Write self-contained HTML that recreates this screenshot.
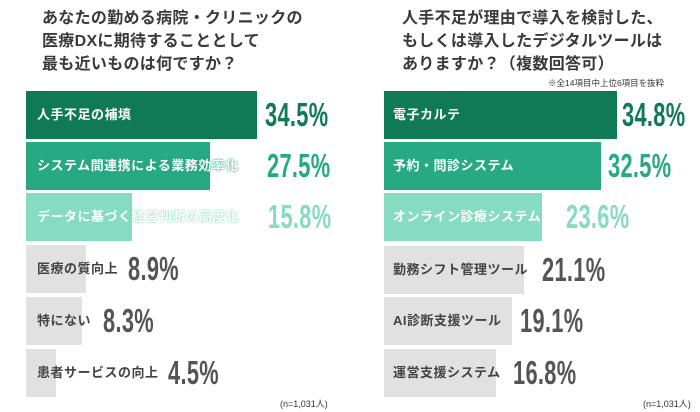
<!DOCTYPE html>
<html><head><meta charset="utf-8"><style>
body{margin:0;width:700px;height:412px;background:#fff;position:relative;overflow:hidden;font-family:"Liberation Sans","Noto Sans CJK JP",sans-serif;font-weight:bold}
.t{position:absolute;font-size:16px;line-height:23px;color:#3a3a3a;letter-spacing:0.3px}
.b{position:absolute;height:48px}
.l{position:absolute;font-size:13px;line-height:16px;white-space:nowrap;letter-spacing:0.5px}
.v{position:absolute;font-size:33px;line-height:32px;white-space:nowrap;transform:scaleX(0.66);transform-origin:left center;letter-spacing:0.5px}
.d{background:#107a56}.m{background:#27a983}.c{background:#86dcc0}.g{background:#e1e1e1}
.w{color:#fff}.k{color:#444}
.n{position:absolute;font-size:9px;color:#333;font-weight:normal}
</style></head><body>
<div class="t" style="left:42px;top:7px">あなたの勤める病院・クリニックの<br>医療DXに期待することとして<br>最も近いものは何ですか？</div>
<div class="t" style="left:402px;top:7px">人手不足が理由で導入を検討した、<br>もしくは導入したデジタルツールは<br>ありますか？（複数回答可）</div>
<div class="n" style="left:548px;top:77px;font-size:8.5px">※全14項目中上位6項目を抜粋</div>

<div class="b d" style="left:26px;top:91px;width:231px"></div>
<div class="b m" style="left:26px;top:142px;width:184px"></div>
<div class="b c" style="left:26px;top:193px;width:106px"></div>
<div class="b g" style="left:26px;top:245px;width:60px"></div>
<div class="b g" style="left:26px;top:297px;width:56px"></div>
<div class="b g" style="left:26px;top:349px;width:30px"></div>

<div class="l w" style="left:37px;top:107px">人手不足の補填</div>
<div class="l w" style="left:37px;top:158px;text-shadow:0 0 2px #27a983,0 0 1px #27a983">システム間連携による業務効率化</div>
<div class="l w" style="left:37px;top:209px;text-shadow:0 0 2px #86dcc0,0 0 1px #86dcc0">データに基づく経営判断の高度化</div>
<div class="l k" style="left:37px;top:261px">医療の質向上</div>
<div class="l k" style="left:37px;top:313px">特にない</div>
<div class="l k" style="left:37px;top:365px">患者サービスの向上</div>

<div class="v" style="left:265px;top:99px;color:#107a56">34.5%</div>
<div class="v" style="left:267px;top:150px;color:#27a983">27.5%</div>
<div class="v" style="left:268px;top:201px;color:#86dcc0">15.8%</div>
<div class="v" style="left:128px;top:253px;color:#555">8.9%</div>
<div class="v" style="left:103px;top:305px;color:#555">8.3%</div>
<div class="v" style="left:168px;top:357px;color:#555">4.5%</div>

<div class="b d" style="left:384px;top:91px;width:233px"></div>
<div class="b m" style="left:384px;top:142px;width:217px"></div>
<div class="b c" style="left:384px;top:193px;width:158px"></div>
<div class="b g" style="left:384px;top:246px;width:140px"></div>
<div class="b g" style="left:384px;top:297px;width:128px"></div>
<div class="b g" style="left:384px;top:349px;width:112px"></div>

<div class="l w" style="left:393px;top:107px">電子カルテ</div>
<div class="l w" style="left:393px;top:158px">予約・問診システム</div>
<div class="l w" style="left:393px;top:209px;text-shadow:0 0 2px #86dcc0,0 0 1px #86dcc0">オンライン診療システム</div>
<div class="l k" style="left:393px;top:262px">勤務シフト管理ツール</div>
<div class="l k" style="left:393px;top:313px">AI診断支援ツール</div>
<div class="l k" style="left:393px;top:365px">運営支援システム</div>

<div class="v" style="left:622px;top:99px;color:#107a56">34.8%</div>
<div class="v" style="left:608px;top:150px;color:#27a983">32.5%</div>
<div class="v" style="left:566px;top:201px;color:#86dcc0">23.6%</div>
<div class="v" style="left:542px;top:254px;color:#555">21.1%</div>
<div class="v" style="left:520px;top:305px;color:#555">19.1%</div>
<div class="v" style="left:513px;top:357px;color:#555">16.8%</div>

<div class="n" style="left:280px;top:397px">(n=1,031人)</div>
<div class="n" style="left:643px;top:397px">(n=1,031人)</div>
</body></html>
